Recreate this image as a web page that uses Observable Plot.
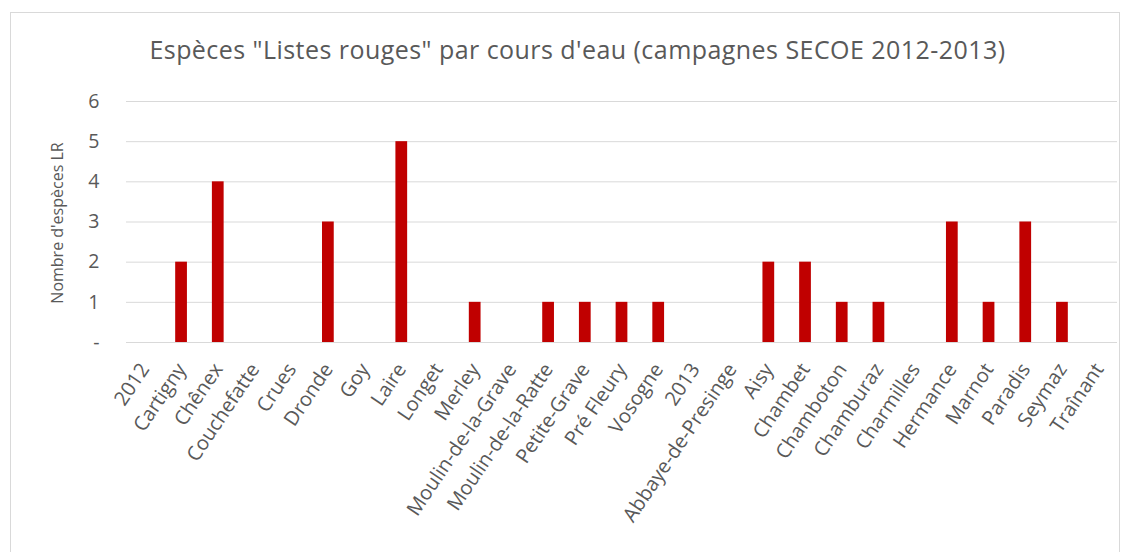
<!DOCTYPE html>
<html>
<head>
<meta charset="utf-8">
<script src="https://cdn.jsdelivr.net/npm/d3@7"></script>
<script src="https://cdn.jsdelivr.net/npm/@observablehq/plot@0.6"></script>
<style>
  html, body { margin: 0; padding: 0; background: #fff; }
  #wrap { position: relative; width: 1129px; height: 552px; overflow: hidden; font-family: "Open Sans", sans-serif; }
  #frame { position: absolute; left: 10px; top: 12px; width: 1110px; height: 560px; border: 1px solid #d9d9d9; box-sizing: border-box; }
  #title { position: absolute; left: 0; width: 1155px; top: 32px; text-align: center; font-size: 25px; color: #595959; letter-spacing: 0.45px; white-space: nowrap; }
  #ylabel { position: absolute; left: 57px; top: 223px; transform: translate(-50%, -50%) rotate(-90deg); font-size: 16px; color: #595959; white-space: nowrap; }
  #chart { position: absolute; left: 0; top: 0; }
</style>
</head>
<body>
<div id="wrap">
  <div id="frame"></div>
  <div id="chart"></div>
  <div id="title">Espèces "Listes rouges" par cours d'eau (campagnes SECOE 2012-2013)</div>
  <div id="ylabel">Nombre d'espèces LR</div>
</div>
<script>
const categories = ["2012","Cartigny","Chênex","Couchefatte","Crues","Dronde","Goy","Laire","Longet","Merley","Moulin-de-la-Grave","Moulin-de-la-Ratte","Petite-Grave","Pré Fleury","Vosogne","2013","Abbaye-de-Presinge","Aisy","Chambet","Chamboton","Chamburaz","Charmilles","Hermance","Marnot","Paradis","Seymaz","Traînant"];
const values = [0,2,4,0,0,3,0,5,0,1,0,1,1,1,1,0,0,2,2,1,1,0,3,1,3,1,0];
const yTicks = [0,1,2,3,4,5,6];

const data = categories.map((c, i) => ({name: c, value: values[i]}));

const chart = Plot.plot({
  width: 1129,
  height: 552,
  marginLeft: 126,
  marginRight: 12,
  marginTop: 101,
  marginBottom: 210,
  style: {fontFamily: "Open Sans, sans-serif", color: "#595959", background: "transparent"},
  x: {domain: categories, paddingInner: 0.68, paddingOuter: 0.34, align: 0.5, round: false, label: null},
  y: {domain: [0, 6], label: null},
  marks: [
    Plot.gridY(yTicks, {stroke: "#d9d9d9", strokeOpacity: 1, strokeWidth: 1}),
    Plot.axisY({ticks: yTicks, tickSize: 0, tickPadding: 27, fontSize: 19.5, tickFormat: d => d === 0 ? "-" : String(d), label: null}),
    Plot.axisX({tickSize: 0, tickPadding: 23, tickRotate: -56, fontSize: 20, label: null}),
    Plot.barY(data, {x: "name", y: "value", fill: "#c00000"})
  ]
});
document.getElementById("chart").appendChild(chart);
</script>
</body>
</html>
